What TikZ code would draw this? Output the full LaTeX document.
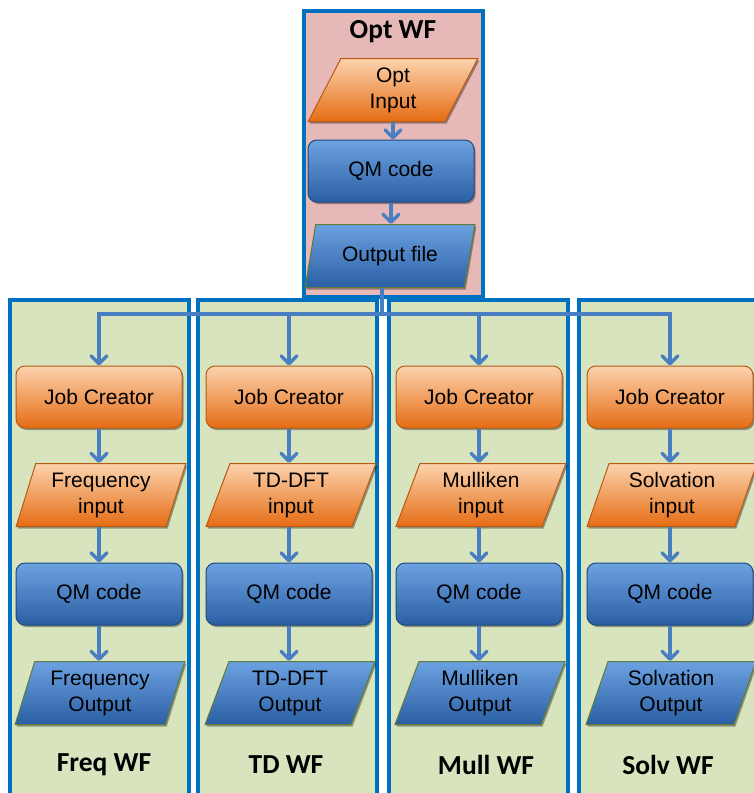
\documentclass[tikz,border=0pt]{standalone}
\usepackage{fontspec}
\setmainfont{Liberation Sans}
\newfontfamily\lblfont{Carlito}
\usetikzlibrary{shapes.geometric,arrows.meta,shadows}
\definecolor{panelblue}{HTML}{0070C0}
\definecolor{greenfill}{HTML}{D7E4BD}
\definecolor{pinkfill}{HTML}{E6B9B8}
\definecolor{conn}{HTML}{4A7EC2}
\definecolor{orTop}{HTML}{FCD3AE}
\definecolor{orBot}{HTML}{E56C14}
\definecolor{orEdge}{HTML}{B85A10}
\definecolor{blTop}{HTML}{6CA2E0}
\definecolor{blBot}{HTML}{2A5FA4}
\definecolor{blEdge}{HTML}{1E4A80}
\definecolor{blData}{HTML}{5E7A3A}
\tikzset{
  panel/.style={fill=greenfill, draw=panelblue, line width=3.2pt},
  optpanel/.style={fill=pinkfill, draw=panelblue, line width=3.2pt},
  txt/.style={font=\fontsize{21}{26}\selectfont, align=center, text=black},
  lbl/.style={font=\lblfont\bfseries\fontsize{27.5}{30}\selectfont, text=black},
  shd/.style={drop shadow={shadow xshift=1.5pt, shadow yshift=-2pt, opacity=0.35, fill=black}},
  procbox/.style={txt, shd, rounded corners=9pt, minimum width=166pt, minimum height=62pt, inner sep=2pt, line width=1pt},
  databox/.style={txt, shd, trapezium, trapezium left angle=72, trapezium right angle=108,
    trapezium stretches=true, minimum width=170pt, minimum height=63pt, inner sep=1pt, line width=1pt},
  orange/.style={top color=orTop, bottom color=orBot, draw=orEdge},
  blue/.style={top color=blTop, bottom color=blBot, draw=blEdge},
  bluedata/.style={top color=blTop, bottom color=blBot, draw=blData},
  flow/.style={draw=conn, line width=3.5pt, -{Straight Barb[length=8pt,width=16pt,round]}},
  link/.style={draw=conn, line width=3.5pt}
}
\begin{document}
\begin{tikzpicture}[x=1pt,y=-1pt]
\useasboundingbox (0,0) rectangle (754,793);
\clip (0,0) rectangle (754,793);
% panels
\path[panel] (10,300) rectangle (189,810);
\path[panel] (198,300) rectangle (377,810);
\path[panel] (389,300) rectangle (568,810);
\path[panel] (579,300) rectangle (770,810);
\path[optpanel] (304,11) rectangle (483,297);
% opt workflow
\node[lbl] (optlbl) at (393,32) {Opt WF};
\node[databox, orange] (optin) at (393,90) {Opt\\Input};
\node[procbox, blue] (optqm) at (391,171) {QM code};
\node[databox, bluedata] (optout) at (390,256) {Output file};
\draw[flow] (optin.south) -- (optin.south |- optqm.north);
\draw[flow] (optqm.south) -- (optqm.south |- optout.north);
% columns
\foreach \n/\cx/\lx/\lab/\inp/\outp in {
  1/99/104/Freq WF/Frequency\\input/Frequency\\Output,
  2/289/286/TD WF/TD-DFT\\input/TD-DFT\\Output,
  3/479/486/Mull WF/Mulliken\\input/Mulliken\\Output,
  4/670/668/Solv WF/Solvation\\input/Solvation\\Output}{
  \node[procbox, orange] (jc\n) at (\cx,397) {Job Creator};
  \node[databox, orange] (in\n) at (\cx+2,495) {\inp};
  \node[procbox, blue] (qm\n) at (\cx,594) {QM code};
  \node[databox, bluedata] (out\n) at (\cx+1,693) {\outp};
  \node[lbl] (wf\n) at (\lx,765) {\lab};
  \draw[flow] (jc\n.south) -- (jc\n.south |- in\n.north);
  \draw[flow] (in\n.south -| qm\n.north) -- (qm\n.north);
  \draw[flow] (qm\n.south) -- (qm\n.south |- out\n.north);
}
% distribution
\coordinate (split) at (382,314);
\draw[link] (optout.south -| split) -- (split);
\foreach \n in {1,2,3,4}{
  \draw[flow] (split) -| (jc\n.north);
}
\end{tikzpicture}
\end{document}
